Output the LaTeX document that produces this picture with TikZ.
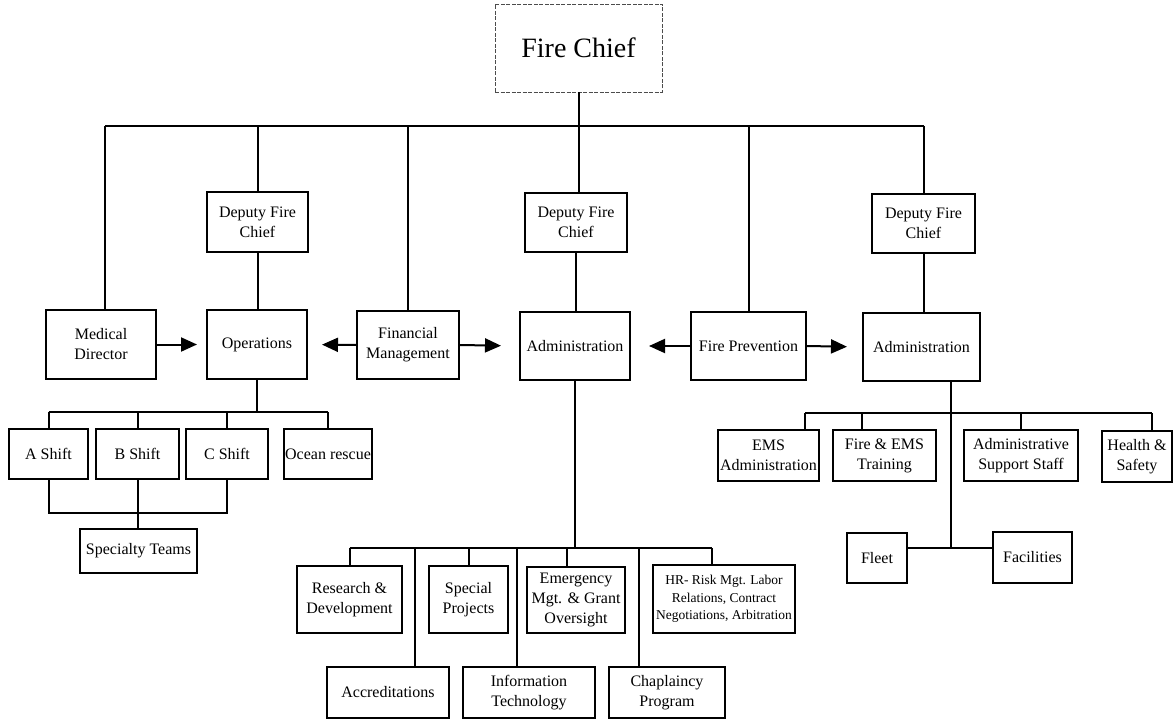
\documentclass[tikz,border=0pt]{standalone}
\usepackage{fontspec}
\setmainfont{Liberation Serif}
\usetikzlibrary{arrows.meta}
\begin{document}
\begin{tikzpicture}[x=1pt,y=-1pt,
  box/.style={draw, line width=2pt, inner sep=0pt, align=center,
    font=\fontsize{16}{20}\selectfont},
  small/.style={font=\fontsize{13.5}{17.5}\selectfont},
  chiefbox/.style={draw=black!70, dash pattern=on 4pt off 1.5pt, line width=0.8pt,
    inner sep=0pt, font=\fontsize{28}{32}\selectfont},
  link/.style={line width=2pt},
  arr/.style={line width=2pt, -{Triangle[length=16pt,width=14pt]}}]
\useasboundingbox (0,0) rectangle (1174,719);

% top
\node[chiefbox, minimum width=167pt, minimum height=88pt] (chief) at (578.5,48) {Fire Chief};
\node[box, minimum width=101pt, minimum height=60pt] (dep1) at (257.5,222) {Deputy Fire\\Chief};
\node[box, minimum width=102pt, minimum height=59pt] (dep2) at (576,222.5) {Deputy Fire\\Chief};
\node[box, minimum width=103pt, minimum height=59pt] (dep3) at (923.5,223.5) {Deputy Fire\\Chief};

\node[box, minimum width=110pt, minimum height=69pt] (med) at (101,344.5) {Medical\\Director};
\node[box, minimum width=100pt, minimum height=69pt] (ops) at (257,344.5) {Operations};
\node[box, minimum width=102pt, minimum height=68pt] (fin) at (408,345) {Financial\\Management};
\node[box, minimum width=110pt, minimum height=68pt] (adm1) at (575,346) {Administration};
\node[box, minimum width=115pt, minimum height=68pt] (prev) at (748.5,346) {Fire Prevention};
\node[box, minimum width=117pt, minimum height=68pt] (adm2) at (921.5,347) {Administration};

% operations subtree
\node[box, minimum width=79pt, minimum height=50pt] (ash) at (48.5,454) {A Shift};
\node[box, minimum width=83pt, minimum height=50pt] (bsh) at (137.5,454) {B Shift};
\node[box, minimum width=82pt, minimum height=50pt] (csh) at (227,454) {C Shift};
\node[box, minimum width=88pt, minimum height=50pt] (ocean) at (328,454) {Ocean rescue};
\node[box, minimum width=117pt, minimum height=44pt] (spec) at (138.5,551) {Specialty Teams};

% administration subtree
\node[box, minimum width=105pt, minimum height=67pt] (rd) at (349.5,599.5) {Research \&\\Development};
\node[box, minimum width=79pt, minimum height=67pt] (sp) at (468.5,599.5) {Special\\Projects};
\node[box, minimum width=98pt, minimum height=66pt] (em) at (576,600) {Emergency\\Mgt. \& Grant\\Oversight};
\node[box, small, minimum width=142pt, minimum height=68pt] (hr) at (724,599) {HR- Risk Mgt. Labor\\Relations, Contract\\Negotiations, Arbitration};
\node[box, minimum width=122pt, minimum height=51pt] (acc) at (388,692.5) {Accreditations};
\node[box, minimum width=132pt, minimum height=51pt] (it) at (529,692.5) {Information\\Technology};
\node[box, minimum width=116pt, minimum height=51pt] (chap) at (667,692.5) {Chaplaincy\\Program};

% right administration subtree
\node[box, minimum width=101pt, minimum height=51pt] (ems) at (768.5,455.5) {EMS\\Administration};
\node[box, minimum width=103pt, minimum height=51pt] (fet) at (884.5,455.5) {Fire \& EMS\\Training};
\node[box, minimum width=114pt, minimum height=51pt] (ass) at (1021,455.5) {Administrative\\Support Staff};
\node[box, minimum width=70pt, minimum height=51pt] (hs) at (1137,456.5) {Health \&\\Safety};
\node[box, minimum width=60pt, minimum height=50pt] (fleet) at (877,558) {Fleet};
\node[box, minimum width=79pt, minimum height=51pt] (fac) at (1032.5,557.5) {Facilities};

% coordinates for buses
\coordinate (busL) at (105,126);
\coordinate (busR) at (923.5,126);
\coordinate (obusL) at (48.5,412);
\coordinate (obusR) at (328,412);
\coordinate (sbusL) at (48.5,513);
\coordinate (sbusR) at (227,513);
\coordinate (abusL) at (349.5,548);
\coordinate (abusR) at (712,548);
\coordinate (adrop) at (575,548);
\coordinate (emdrop) at (567,548);
\coordinate (accdrop) at (415,548);
\coordinate (itdrop) at (517,548);
\coordinate (chapdrop) at (639,548);
\coordinate (r2top) at (951,380);
\coordinate (r2low) at (951,548);
\coordinate (emsdrop) at (805,413);
\coordinate (fetdrop) at (862,413);
\coordinate (hsdrop) at (1152,413);
\coordinate (fleetR) at (907,548);
\coordinate (facL) at (993,548);

% top bus
\draw[link] (busL) -- (busR);
\draw[link] (chief.south) -- (chief.south |- dep2.north);
\draw[link] (busL) -- (busL |- med.north);
\draw[link] (dep1.north |- busL) -- (dep1.north);
\draw[link] (fin.north |- busL) -- (fin.north);
\draw[link] (prev.north |- busL) -- (prev.north);
\draw[link] (busR) -- (dep3.north);

% deputy to admin
\draw[link] (dep1.south) -- (dep1.south |- ops.north);
\draw[link] (dep2.south) -- (dep2.south |- adm1.north);
\draw[link] (dep3.south) -- (dep3.south |- adm2.north);

% arrows
\draw[arr, shorten >=9pt] (med.east) -- (ops.west);
\draw[arr, shorten >=14pt] (fin.west) -- (ops.east);
\draw[arr, shorten >=18pt] (fin.east) -- (adm1.west);
\draw[arr, shorten >=18pt] (prev.west) -- (adm1.east);
\draw[arr, shorten >=15pt] (prev.east) -- (adm2.west);

% operations subtree
\draw[link] (ops.south) -- (ops.south |- obusL);
\draw[link] (obusL) -- (obusR);
\draw[link] (obusL) -- (ash.north);
\draw[link] (bsh.north |- obusL) -- (bsh.north);
\draw[link] (csh.north |- obusL) -- (csh.north);
\draw[link] (obusR) -- (ocean.north);
\draw[link] (ash.south) -- (sbusL) -- (sbusR) -- (csh.south);
\draw[link] (bsh.south) -- (bsh.south |- spec.north);

% admin subtree
\draw[link] (adm1.south) -- (adrop);
\draw[link] (abusL) -- (abusR);
\draw[link] (abusL) -- (rd.north);
\draw[link] (sp.north |- abusL) -- (sp.north);
\draw[link] (emdrop) -- (emdrop |- em.north);
\draw[link] (abusR) -- (abusR |- hr.north);
\draw[link] (accdrop) -- (accdrop |- acc.north);
\draw[link] (itdrop) -- (itdrop |- it.north);
\draw[link] (chapdrop) -- (chapdrop |- chap.north);

% right subtree
\draw[link] (r2top) -- (r2low);
\draw[link] (emsdrop) -- (hsdrop);
\draw[link] (emsdrop) -- (emsdrop |- ems.north);
\draw[link] (fetdrop) -- (fetdrop |- fet.north);
\draw[link] (ass.north |- emsdrop) -- (ass.north);
\draw[link] (hsdrop) -- (hsdrop |- hs.north);
\draw[link] (fleetR) -- (facL);
\end{tikzpicture}
\end{document}
